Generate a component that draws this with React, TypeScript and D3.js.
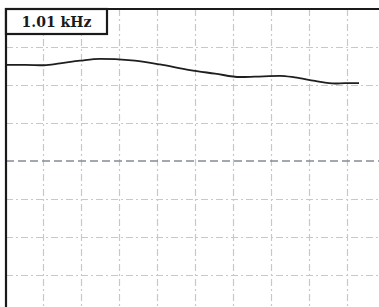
import React, { useEffect, useRef } from "react";
import * as d3 from "d3";

const width = 379;
const height = 307;

// horizontal position in grid divisions, level in divisions above the centre line
const divX = [0, 0.5, 1.0, 1.42, 1.95, 2.47, 2.87, 3.39, 4.05, 4.84, 5.5, 6.16, 6.55, 7.21, 7.6, 8.13, 8.66, 8.92, 9.29];
const level = [2.53, 2.53, 2.52, 2.57, 2.64, 2.69, 2.68, 2.64, 2.54, 2.39, 2.3, 2.21, 2.22, 2.24, 2.2, 2.11, 2.04, 2.05, 2.05];
const vDivs = [1, 2, 3, 4, 5, 6, 7, 8, 9];
const hDivs = [3, 2, 1, -1, -2, -3, -4];
const label = "1.01 kHz";

const App = () => {
  const ref = useRef<SVGSVGElement>(null);

  useEffect(() => {
    const svg = d3.select(ref.current);
    svg.selectAll("*").remove();

    const x = d3.scaleLinear().domain([0, 10]).range([6, 386]);
    const y = d3.scaleLinear().domain([4, -4]).range([9, 313]);

    const grid = svg.append("g");
    grid
      .selectAll(".v")
      .data(vDivs)
      .enter()
      .append("line")
      .attr("x1", (d) => Math.round(x(d)) - 0.5)
      .attr("x2", (d) => Math.round(x(d)) - 0.5)
      .attr("y1", y(4))
      .attr("y2", height)
      .style("stroke", "#c5c8cd")
      .style("stroke-width", 1.2)
      .style("stroke-dasharray", "7,3,2,3");

    grid
      .selectAll(".h")
      .data(hDivs)
      .enter()
      .append("line")
      .attr("x1", x(0))
      .attr("x2", width)
      .attr("y1", (d) => Math.round(y(d)) + 0.5)
      .attr("y2", (d) => Math.round(y(d)) + 0.5)
      .style("stroke", "#c5c8cd")
      .style("stroke-width", 1.2)
      .style("stroke-dasharray", "7,3,2,3");

    grid
      .append("line")
      .attr("x1", x(0))
      .attr("x2", width)
      .attr("y1", y(0))
      .attr("y2", y(0))
      .style("stroke", "#868c94")
      .style("stroke-width", 1.4)
      .style("stroke-dasharray", "8,4");

    const line = d3
      .line<number>()
      .x((d, i) => x(divX[i]))
      .y((d) => y(d))
      .curve(d3.curveMonotoneX);

    svg
      .append("path")
      .attr("d", line(level))
      .style("fill", "none")
      .style("stroke", "#1e1e1e")
      .style("stroke-width", 1.8);

    // frame: left and top edges
    svg
      .append("line")
      .attr("x1", x(0))
      .attr("x2", x(0))
      .attr("y1", y(4) - 1)
      .attr("y2", height)
      .style("stroke", "#1a1a1a")
      .style("stroke-width", 2.2);
    svg
      .append("line")
      .attr("x1", x(0) - 1)
      .attr("x2", width)
      .attr("y1", y(4))
      .attr("y2", y(4))
      .style("stroke", "#1a1a1a")
      .style("stroke-width", 2.2);

    svg
      .append("rect")
      .attr("x", x(0))
      .attr("y", y(4))
      .attr("width", 101)
      .attr("height", 25)
      .style("fill", "white")
      .style("stroke", "#1a1a1a")
      .style("stroke-width", 2.2);

    svg
      .append("text")
      .attr("x", x(0) + 50.5)
      .attr("y", y(4) + 18)
      .attr("text-anchor", "middle")
      .style("font", "bold 14px 'DejaVu Serif', serif")
      .style("fill", "#1a1a1a")
      .text(label);
  }, []);

  return (
    <svg
      ref={ref}
      width={width}
      height={height}
      style={{ position: "absolute", left: 0, top: 0, display: "block", background: "white" }}
    ></svg>
  );
};

export default App;
